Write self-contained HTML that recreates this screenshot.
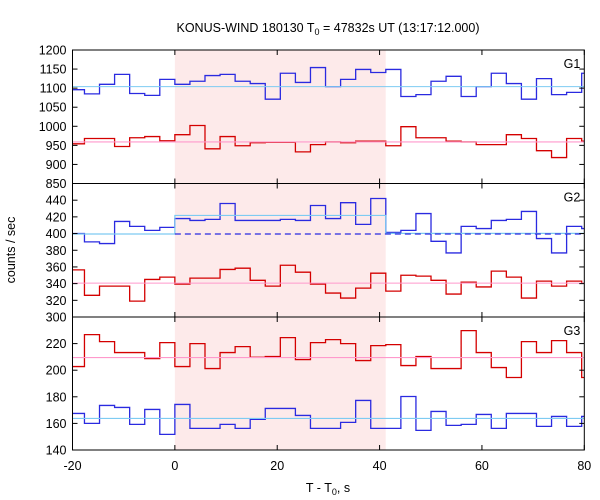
<!DOCTYPE html>
<html><head><meta charset="utf-8"><style>
body{margin:0;background:#fff;}
svg{display:block;font-family:"Liberation Sans",sans-serif;}
</style></head><body>
<svg id="chart" width="600" height="500" viewBox="0 0 600 500" xmlns="http://www.w3.org/2000/svg">
<text x="328" y="32" font-size="12.5" text-anchor="middle" fill="#000">KONUS-WIND 180130 T<tspan font-size="9" dy="3">0</tspan><tspan dy="-3"> = 47832s UT (13:17:12.000)</tspan></text>
<text transform="translate(15,250) rotate(-90)" font-size="12.5" text-anchor="middle">counts / sec</text>
<text x="328" y="492" font-size="12.5" text-anchor="middle">T - T<tspan font-size="9" dy="3">0</tspan><tspan dy="-3">, s</tspan></text>
<g id="plots"></g>
</svg>
<script>
const binWidth = 2.944;
const firstBin = -7;
const xTicks = [-20, 0, 20, 40, 60, 80];
const shadeStart = 0;
const shadeEnd = 41.2;

const g1Ticks = [1200,1150,1100,1050,1000,950,900,850];
const g1Blue = [1096,1085,1110,1136,1086,1081,1123,1110,1118,1133,1136,1118,1112,1071,1139,1115,1154,1104,1123,1149,1141,1149,1078,1083,1118,1131,1078,1104,1139,1112,1071,1125,1083,1089,1139];
const g1Red = [954,968,968,947,970,973,962,978,1002,941,973,949,957,958,958,933,952,959,957,961,961,949,999,970,970,961,959,952,952,978,968,936,918,968,961];
const g1BlueMean = 1104;
const g1RedMean = 959;

const g2Ticks = [440,420,400,380,360,340,320,300];
const g2Blue = [400,390,388,414.5,408.6,403.8,407.4,418,415.7,417,436,415.7,415.7,415.7,417,415.7,433.6,418,437,411,442,401.4,403.8,424,390.7,376.8,408.6,406,415.7,417,426.5,394,376.8,408.6,406];
const g2Red = [356.5,326,337,337,319,345,347.8,339.4,346.6,346.6,357,358.5,344,337,362,353.7,339.4,328.7,322.7,334.6,352.5,331,350,349,344,327.5,341.8,336,355,347.8,322.7,343,337,343,340.6];
const g2BlueMeanBefore = 399.5;
const g2BlueMeanDuring = 421.7;
const g2BlueMeanAfter = 400.2;
const g2BlueBackground = 399.5;
const g2RedMean = 340.6;

const g3Ticks = [220,200,180,160,140];
const g3Red = [202.75,226.75,221.5,213.25,213.25,208.75,220.75,202.75,220,201.25,213.25,217.75,209.75,210.25,224.5,208,220.75,223,220,207.25,218.5,219.25,203.5,210.25,201.25,201.25,229.75,213.25,202,194.5,221.5,213.25,222.25,213.25,194.5];
const g3Blue = [167.5,160,173.5,172,159.25,170.5,151.75,174.25,156.25,156.25,159.25,156.25,163,171.25,171.25,166,156.25,156.25,160.75,177.25,156.25,156.25,180.25,154.75,169,158.5,159.25,166.75,156.25,167.5,167.5,157.75,165.25,157.75,165.25];
const g3RedMean = 209.5;
const g3BlueMean = 163.75;

const X0 = 72.5, X1 = 584.3, XMIN = -20, XMAX = 80;
const xs = v => X0 + (v - XMIN) / (XMAX - XMIN) * (X1 - X0);
const NS = "http://www.w3.org/2000/svg";
const root = document.getElementById('plots');
const BLUE = '#2a2ae0', RED = '#d40000', CYAN = '#7ecbf2', PINK = '#ff99cc';

function mk(tag, attrs, parent) {
  const e = document.createElementNS(NS, tag);
  for (const k in attrs) e.setAttribute(k, attrs[k]);
  (parent || root).appendChild(e);
  return e;
}

function panel(name, top, bottom, vmax, vmin, ticks, label, drawFn) {
  const ys = v => top + (vmax - v) / (vmax - vmin) * (bottom - top);
  const g = mk('g', {});
  
  
  const sh = mk('rect', {x: xs(shadeStart), y: top, width: xs(shadeEnd) - xs(shadeStart), height: bottom - top, fill: '#fdeaea'}, g);
  
  
  drawFn(g, ys);
  const fr = mk('rect', {x: X0, y: top, width: X1 - X0, height: bottom - top, fill: 'none', stroke: '#000', 'stroke-width': 1}, g);
  
  
  ticks.forEach(t => {
    const y = ys(t);
    mk('line', {x1: X0, x2: X0 + 5, y1: y, y2: y, stroke: '#000'}, g);
    mk('line', {x1: X1 - 5, x2: X1, y1: y, y2: y, stroke: '#000'}, g);
    const tl = mk('text', {x: X0 - 6, y: y + 4.5, 'font-size': 12.5, 'text-anchor': 'end', fill: '#000'}, g);
    tl.textContent = t;
    
    
  });
  xTicks.forEach(t => {
    const x = xs(t);
    mk('line', {x1: x, x2: x, y1: top, y2: top + 5, stroke: '#000'}, g);
    mk('line', {x1: x, x2: x, y1: bottom - 5, y2: bottom, stroke: '#000'}, g);
  });
  const lb = mk('text', {x: X1 - 4, y: top + 18, 'font-size': 12.5, 'text-anchor': 'end', fill: '#000'}, g);
  lb.textContent = label;
  
  
  return ys;
}

function stairs(g, ys, vals, color, name) {
  let d = '';
  vals.forEach((v, i) => {
    const a = Math.max(XMIN, (firstBin + i) * binWidth);
    const b = Math.min(XMAX, (firstBin + i + 1) * binWidth);
    const y = ys(v).toFixed(2);
    d += (i === 0 ? 'M' : 'L') + xs(a).toFixed(2) + ',' + y + 'L' + xs(b).toFixed(2) + ',' + y;
  });
  const p = mk('path', {d: d, fill: 'none', stroke: color, 'stroke-width': 1.3}, g);
  
  
}

function hline(g, ys, v, a, b, color, name, dash) {
  const l = mk('line', {x1: xs(a), x2: xs(b), y1: ys(v), y2: ys(v), stroke: color, 'stroke-width': dash ? 1.3 : 1.1}, g);
  if (dash) l.setAttribute('stroke-dasharray', '6,4');
  
  
}

panel('panel-g1', 50, 183.5, 1200, 850, g1Ticks, 'G1', (g, ys) => {
  stairs(g, ys, g1Blue, BLUE, 'g1-blue-series');
  stairs(g, ys, g1Red, RED, 'g1-red-series');
  hline(g, ys, g1BlueMean, XMIN, XMAX, CYAN, 'g1-blue-mean');
  hline(g, ys, g1RedMean, XMIN, XMAX, PINK, 'g1-red-mean');
});
panel('panel-g2', 183.5, 317, 460, 300, g2Ticks, 'G2', (g, ys) => {
  stairs(g, ys, g2Blue, BLUE, 'g2-blue-series');
  stairs(g, ys, g2Red, RED, 'g2-red-series');
  const d = 'M' + xs(XMIN) + ',' + ys(g2BlueMeanBefore) + 'L' + xs(shadeStart) + ',' + ys(g2BlueMeanBefore) +
    'L' + xs(shadeStart) + ',' + ys(g2BlueMeanDuring) + 'L' + xs(shadeEnd) + ',' + ys(g2BlueMeanDuring) +
    'L' + xs(shadeEnd) + ',' + ys(g2BlueMeanAfter) + 'L' + xs(XMAX) + ',' + ys(g2BlueMeanAfter);
  const p = mk('path', {d: d, fill: 'none', stroke: CYAN, 'stroke-width': 1.2}, g);
  
  
  hline(g, ys, g2BlueBackground, shadeStart, XMAX, BLUE, 'g2-blue-background-dashed', true);
  hline(g, ys, g2RedMean, XMIN, XMAX, PINK, 'g2-red-mean');
});
panel('panel-g3', 317, 450, 240, 140, g3Ticks, 'G3', (g, ys) => {
  stairs(g, ys, g3Red, RED, 'g3-red-series');
  stairs(g, ys, g3Blue, BLUE, 'g3-blue-series');
  hline(g, ys, g3RedMean, XMIN, XMAX, PINK, 'g3-red-mean');
  hline(g, ys, g3BlueMean, XMIN, XMAX, CYAN, 'g3-blue-mean');
});

xTicks.forEach(t => {
  const tl = mk('text', {x: xs(t), y: 470, 'font-size': 12.5, 'text-anchor': 'middle', fill: '#000'});
  tl.textContent = t;
  
  
});
</script>
</body></html>
